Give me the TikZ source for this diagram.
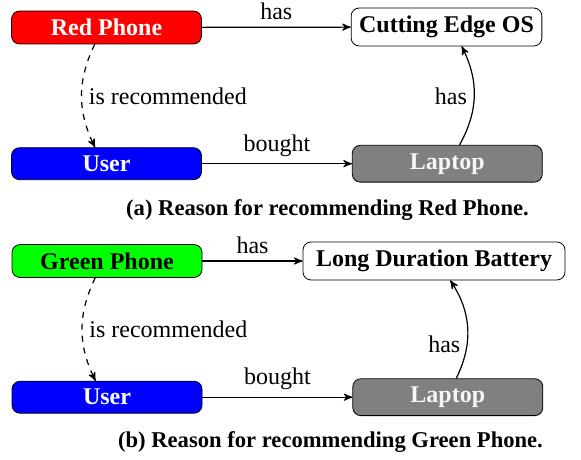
\documentclass[tikz,border=0pt]{standalone}
\usepackage{fontspec}
\setmainfont{Liberation Serif}
\usetikzlibrary{arrows, positioning}

\begin{document}
\begin{tikzpicture}[x=0.5pt, y=-0.5pt, >=stealth', auto, semithick,
    every node/.style={font=\rmfamily\fontsize{12}{14}\selectfont},
    item/.style={draw, thin, rounded corners=4pt, inner sep=4pt, font=\rmfamily\fontsize{12}{14}\selectfont\bfseries},
    wide/.style={item, minimum width=95pt},
    caption/.style={font=\rmfamily\fontsize{11.3}{14}\selectfont\bfseries}]
     \fill[white] (0,0) rectangle (581,459);
     \useasboundingbox (0,0) rectangle (581,459);

     % (a) red phone
     \node[wide, fill=red, text=white]              (redphone) at (106.5,27.5)           {Red Phone};
     \node[item]                                    (os)       at (446.5,27)             {Cutting Edge OS};
     \node[wide, fill=blue, text=white]             (user1)    [below=51.5pt of redphone] {User};
     \node[wide, fill=gray, text=white!93!gray]     (laptop1)  [right=75pt of user1]     {Laptop};
     \node[caption]                                 (capa)     at (327.5,210)            {(a) Reason for recommending Red Phone.};

     \path[->] (redphone)     edge                      node {has}            (os)
               (redphone.235) edge [dashed, bend right=26] node {is recommended} (user1.125)
               (user1)        edge                      node {bought}         (laptop1)
               (laptop1.57)   edge [bend right=28]      node {has}            (os.-52);

     % (b) green phone
     \node[wide, fill=green]                        (greenphone) at (107,261)              {Green Phone};
     \node[item, minimum width=131pt]               (battery)    at (434,261)              {Long Duration Battery};
     \node[wide, fill=blue, text=white]             (user2)      [below=51.5pt of greenphone] {User};
     \node[wide, fill=gray, text=white!93!gray]     (laptop2)    [right=75pt of user2]     {Laptop};
     \node[caption]                                 (capb)       at (330.5,442)            {(b) Reason for recommending Green Phone.};

     \path[->] (greenphone)     edge                      node {has}            (battery)
               (greenphone.235) edge [dashed, bend right=26] node {is recommended} (user2.125)
               (user2)          edge                      node {bought}         (laptop2)
               (laptop2.66)     edge [bend right=30]      node {has}            (battery.-50);
\end{tikzpicture}
\end{document}
